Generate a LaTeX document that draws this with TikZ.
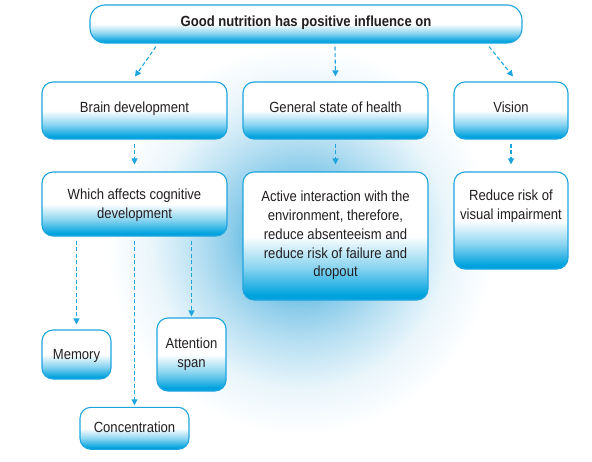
\documentclass[tikz,border=0pt]{standalone}
\usepackage{fontspec}
\setmainfont{Liberation Sans}[FakeStretch=0.89]
\usetikzlibrary{arrows.meta}
\definecolor{boxblue}{RGB}{0,162,222}
\definecolor{edgeblue}{RGB}{30,165,222}
\definecolor{glowc}{RGB}{35,158,215}
\definecolor{txt}{RGB}{35,31,32}
\colorlet{boxblueA}{boxblue!45}
\colorlet{glowA}{glowc!78}
\colorlet{glowB}{glowc!52}
\colorlet{glowC}{glowc!33}
\colorlet{glowD}{glowc!10}
\pgfdeclareverticalshading{boxshade}{100bp}{color(0bp)=(boxblue); color(27bp)=(boxblue); color(38bp)=(boxblueA); color(50bp)=(white); color(100bp)=(white)}
\pgfdeclareradialshading{glow}{\pgfpoint{0bp}{0bp}}{color(0bp)=(glowc); color(5bp)=(glowA); color(9bp)=(glowB); color(13bp)=(glowC); color(19bp)=(glowD); color(25bp)=(white); color(50bp)=(white)}
\newcommand{\mlines}[1]{\begin{tabular}[t]{@{}c@{}}#1\end{tabular}}
\tikzset{
  txtfont/.style={font=\fontsize{14.7}{18.8}\selectfont},
  box/.style={draw=edgeblue, line width=1.1pt, rounded corners=11pt, shade, shading=boxshade,
    text=txt, align=center, txtfont, inner sep=0pt, text height=10.8pt},
  arr/.style={draw=edgeblue, line width=1.1pt, dash pattern=on 4pt off 2.5pt,
    -{Triangle[length=6pt,width=6pt]}}
}
\begin{document}
\begin{tikzpicture}[x=1pt,y=-1pt]
\path[use as bounding box] (0,0) rectangle (592,461);
\fill[white] (0,0) rectangle (592,461);
\shade[shading=glow] (300,240) circle (195pt);

\node[box, rounded corners=15pt, minimum width=432pt, minimum height=38pt,
  font=\fontsize{14.7}{18.8}\selectfont\bfseries, text depth=5.4pt] (top) at (306,24) {Good nutrition has positive influence on};

\node[box, minimum width=185pt, minimum height=57pt, text depth=7.2pt] (brain) at (134.5,110.5) {Brain development};
\node[box, minimum width=185pt, minimum height=57pt, text depth=7.2pt] (general) at (335.5,110.5) {General state of health};
\node[box, minimum width=114pt, minimum height=57pt, text depth=7.2pt] (vision) at (511,110.5) {Vision};

\node[box, minimum width=185pt, minimum height=64pt, text depth=19.2pt] (which) at (134.5,204)
  {\mlines{Which affects cognitive\\development}};
\node[box, minimum width=185pt, minimum height=128pt, text depth=79.6pt] (active) at (335.5,236)
  {\mlines{Active interaction with the\\environment, therefore,\\reduce absenteeism and\\reduce risk of failure and\\dropout}};
\node[box, minimum width=114pt, minimum height=97pt, text depth=50.8pt] (reduce) at (511,220.5)
  {\mlines{Reduce risk of\\visual impairment}};

\node[box, minimum width=69pt, minimum height=49pt, text depth=1.2pt] (memory) at (76.5,354.5) {Memory};
\node[box, minimum width=69pt, minimum height=73pt, text depth=23.2pt] (attention) at (191.5,354.5)
  {\mlines{Attention\\span}};
\node[box, minimum width=109pt, minimum height=42pt, text depth=2.8pt] (conc) at (134.5,428.3) {Concentration};

\draw[arr] ([xshift=-150pt,yshift=-3pt]top.south) -- ([xshift=0.5pt,yshift=5pt]brain.north);
\draw[arr] ([xshift=29pt,yshift=-3pt]top.south) -- ([yshift=5pt]general.north);
\draw[arr] ([xshift=183pt,yshift=-3pt]top.south) -- ([xshift=2pt,yshift=5pt]vision.north);

\draw[arr, shorten <=4pt, shorten >=7pt] (brain.south) -- (which.north);
\draw[arr, shorten <=4pt, shorten >=7pt] (general.south) -- (active.north);
\draw[arr, shorten <=4pt, shorten >=7pt] (vision.south) -- (reduce.north);

\draw[arr, shorten <=4pt, shorten >=5pt] (which.south -| memory.north) -- (memory.north);
\draw[arr, shorten <=4pt, shorten >=1.5pt] (which.south) -- (conc.north);
\draw[arr, shorten <=4pt, shorten >=1pt] (which.south -| attention.north) -- (attention.north);
\end{tikzpicture}
\end{document}
